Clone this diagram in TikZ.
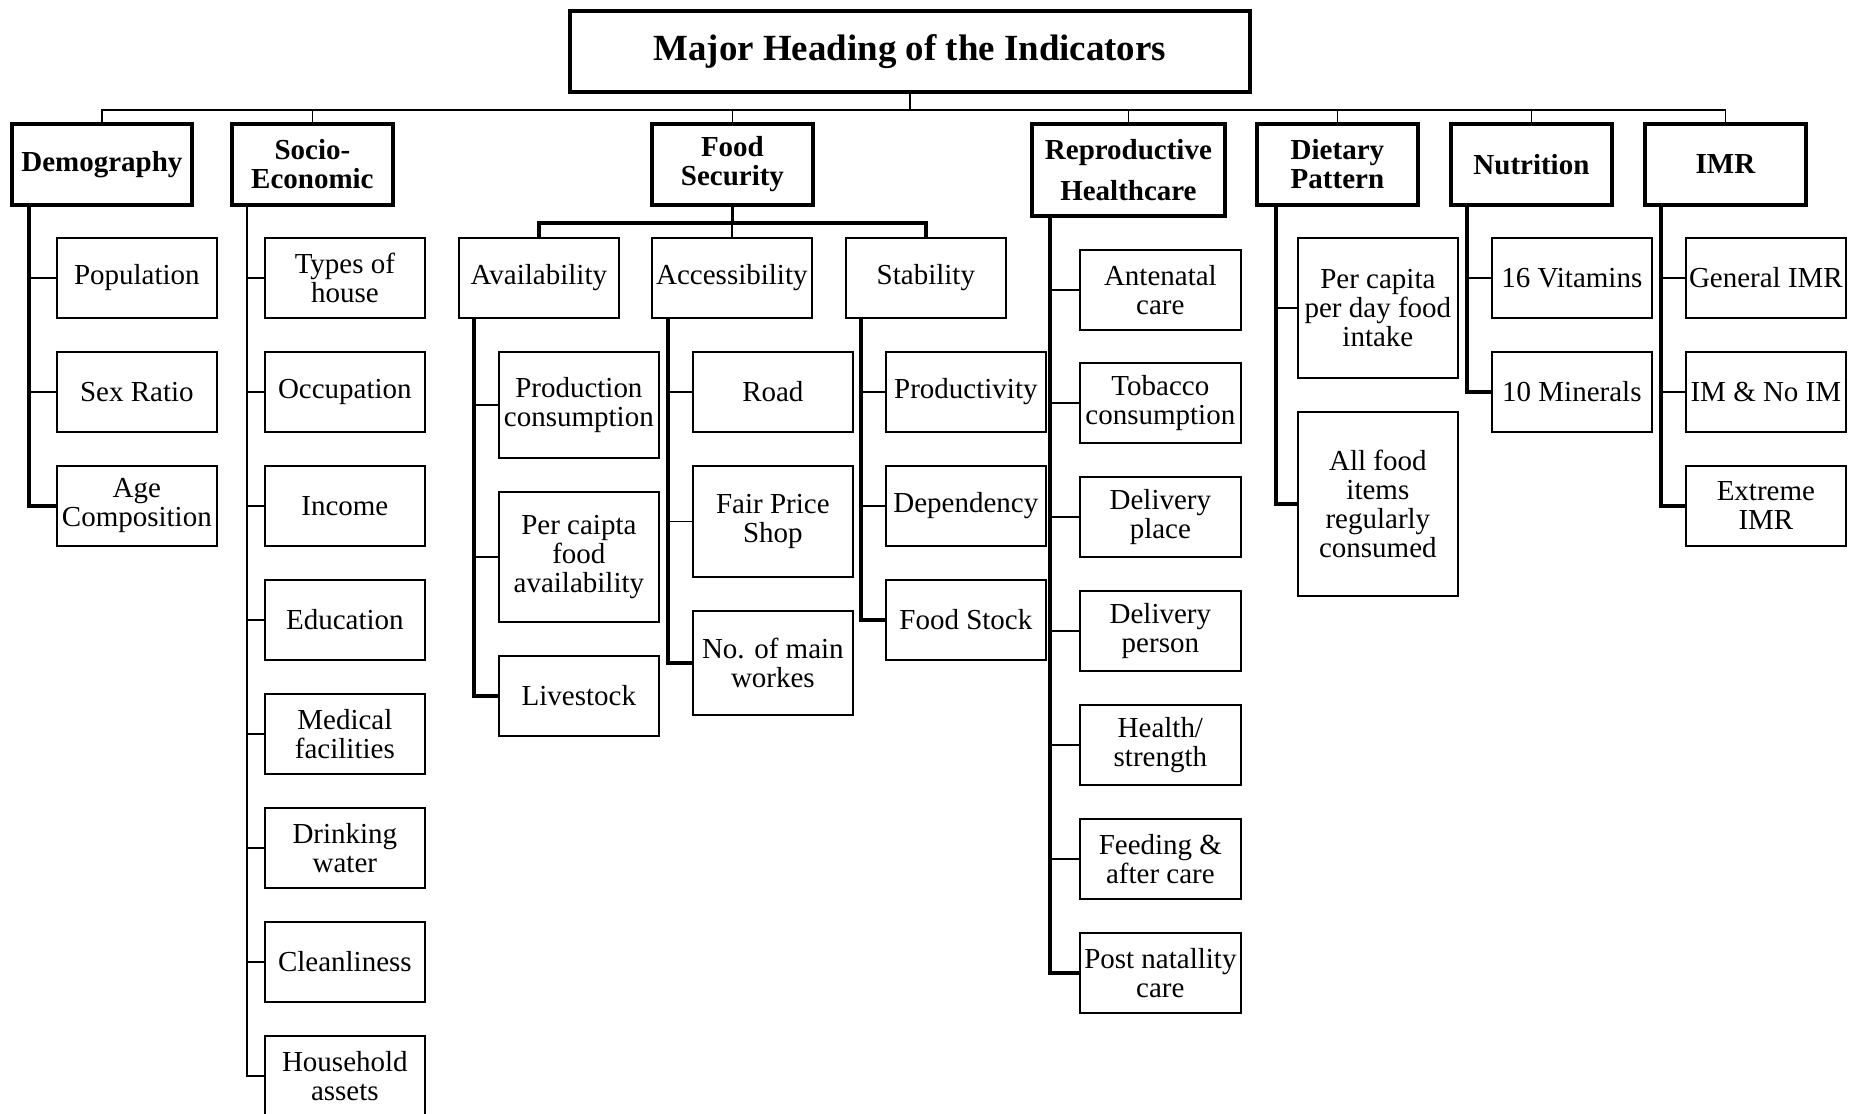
\documentclass[tikz,border=0pt]{standalone}
\usepackage{fontspec}
\setmainfont{Liberation Serif}
\usetikzlibrary{calc,positioning}

\begin{document}
\begin{tikzpicture}[
  x=0.02cm, y=-0.02cm,
  every node/.style={text=black, align=center, inner sep=0pt},
  head/.style={draw, line width=2.2pt, minimum width=3.22cm, minimum height=1.62cm,
    anchor=north west, font=\fontsize{16.5}{16.4}\selectfont\bfseries},
  item/.style={draw, line width=1pt, minimum width=3.2cm, minimum height=1.6cm,
    anchor=north west, font=\fontsize{16.5}{16.4}\selectfont},
  link/.style={line width=1pt},
  trunk/.style={line width=2pt},
  midtrunk/.style={line width=1.4pt}
]
\useasboundingbox (0,0) rectangle (1856,1113);

% ---- title ----
\node[head, minimum width=13.6cm, font=\fontsize{21}{21}\selectfont\bfseries] (title) at (568,9) {Major Heading of the Indicators};

% ---- main headings ----
\node[head, minimum width=3.6cm] (demo) at (10,122) {Demography};
\node[head] (socio) at (230,122) {Socio-\\Economic};
\node[head] (food) at (650,122) {Food\\Security};
\node[head, minimum width=3.86cm, minimum height=1.84cm,
  font=\fontsize{16.5}{23}\selectfont\bfseries] (repro) at (1030,122) {Reproductive\\Healthcare};
\node[head] (diet) at (1255,122) {Dietary\\Pattern};
\node[head] (nutri) at (1449,122) {Nutrition};
\node[head] (imr) at (1643,122) {IMR};

% ---- demography ----
\node[item] (pop) at (56,237) {Population};
\node[item] (sex) at (56,351) {Sex Ratio};
\node[item] (age) at (56,465) {Age\\Composition};

% ---- socio-economic ----
\node[item] (house) at (264,237) {Types of\\house};
\node[item] (occup) at (264,351) {Occupation};
\node[item] (income) at (264,465) {Income};
\node[item] (edu) at (264,579) {Education};
\node[item] (medic) at (264,693) {Medical\\facilities};
\node[item] (water) at (264,807) {Drinking\\water};
\node[item] (clean) at (264,921) {Cleanliness};
\node[item] (assets) at (264,1035) {Household\\assets};

% ---- food security ----
\node[item] (avail) at (458,237) {Availability};
\node[item] (access) at (651,237) {Accessibility};
\node[item] (stab) at (845,237) {Stability};

\node[item, minimum height=2.12cm] (prod) at (498,351) {Production\\consumption};
\node[item, minimum height=2.6cm] (percap) at (498,491) {Per caipta\\food\\availability};
\node[item] (live) at (498,655) {Livestock};

\node[item] (road) at (692,351) {Road};
\node[item, minimum height=2.22cm] (fair) at (692,465) {Fair Price\\Shop};
\node[item, minimum height=2.08cm] (workers) at (692,610) {No. of main\\workes};

\node[item] (prodv) at (885,351) {Productivity};
\node[item] (depend) at (885,465) {Dependency};
\node[item] (stock) at (885,579) {Food Stock};

% ---- reproductive healthcare ----
\node[item, minimum width=3.22cm] (antenatal) at (1079,249) {Antenatal\\care};
\node[item, minimum width=3.22cm] (tobacco) at (1079,362) {Tobacco\\consumption};
\node[item, minimum width=3.22cm] (dplace) at (1079,476) {Delivery\\place};
\node[item, minimum width=3.22cm] (dperson) at (1079,590) {Delivery\\person};
\node[item, minimum width=3.22cm] (health) at (1079,704) {Health/\\strength};
\node[item, minimum width=3.22cm] (feed) at (1079,818) {Feeding \&\\after care};
\node[item, minimum width=3.22cm] (post) at (1079,932) {Post natallity\\care};

% ---- dietary pattern ----
\node[item, minimum height=2.8cm] (intake) at (1297,237) {Per capita\\per day food\\intake};
\node[item, minimum height=3.68cm] (allfood) at (1297,411) {All food\\items\\regularly\\consumed};

% ---- nutrition ----
\node[item] (vit) at (1491,237) {16 Vitamins};
\node[item] (mineral) at (1491,351) {10 Minerals};

% ---- imr ----
\node[item] (gen) at (1685,237) {General IMR};
\node[item] (imno) at (1685,351) {IM \& No IM};
\node[item] (ext) at (1685,465) {Extreme\\IMR};

% ---- top bus ----
\coordinate (bus) at ($(title.south)+(0,16)$);
\draw[link] (title.south) -- (bus);
\draw[link] (demo.north) |- (bus);
\draw[link] (socio.north) |- (bus);
\draw[link] (food.north) |- (bus);
\draw[link] (repro.north) |- (bus);
\draw[link] (diet.north) |- (bus);
\draw[link] (nutri.north) |- (bus);
\draw[link] (imr.north) |- (bus);

% ---- food bus ----
\coordinate (fbus) at ($(food.south)+(0,16)$);
\draw[trunk] (food.south) -- (fbus);
\draw[trunk] (avail.north) |- (fbus);
\draw[trunk] (stab.north) |- (fbus);
\draw[link] (access.north) -- (access.north |- fbus);

% ---- trunks ----
\coordinate (dT) at ([xshift=0.38cm]demo.south west);
\coordinate (sT) at ([xshift=0.34cm]socio.south west);
\coordinate (avT) at ([xshift=0.32cm]avail.south west);
\coordinate (acT) at ([xshift=0.34cm]access.south west);
\coordinate (stT) at ([xshift=0.32cm]stab.south west);
\coordinate (rT) at ([xshift=0.4cm]repro.south west);
\coordinate (diT) at ([xshift=0.42cm]diet.south west);
\coordinate (nT) at ([xshift=0.36cm]nutri.south west);
\coordinate (iT) at ([xshift=0.36cm]imr.south west);

\draw[trunk] (dT) |- (age.west);
\draw[link] (dT |- pop.west) -- (pop.west);
\draw[link] (dT |- sex.west) -- (sex.west);

\draw[midtrunk] (sT) |- (assets.west);
\draw[link] (sT |- house.west) -- (house.west);
\draw[link] (sT |- occup.west) -- (occup.west);
\draw[link] (sT |- income.west) -- (income.west);
\draw[link] (sT |- edu.west) -- (edu.west);
\draw[link] (sT |- medic.west) -- (medic.west);
\draw[link] (sT |- water.west) -- (water.west);
\draw[link] (sT |- clean.west) -- (clean.west);

\draw[trunk] (avT) |- (live.west);
\draw[link] (avT |- prod.west) -- (prod.west);
\draw[link] (avT |- percap.west) -- (percap.west);

\draw[trunk] (acT) |- (workers.west);
\draw[link] (acT |- road.west) -- (road.west);
\draw[link] (acT |- fair.west) -- (fair.west);

\draw[trunk] (stT) |- (stock.west);
\draw[link] (stT |- prodv.west) -- (prodv.west);
\draw[link] (stT |- depend.west) -- (depend.west);

\draw[trunk] (rT) |- (post.west);
\draw[link] (rT |- antenatal.west) -- (antenatal.west);
\draw[link] (rT |- tobacco.west) -- (tobacco.west);
\draw[link] (rT |- dplace.west) -- (dplace.west);
\draw[link] (rT |- dperson.west) -- (dperson.west);
\draw[link] (rT |- health.west) -- (health.west);
\draw[link] (rT |- feed.west) -- (feed.west);

\draw[trunk] (diT) |- (allfood.west);
\draw[link] (diT |- intake.west) -- (intake.west);

\draw[trunk] (nT) |- (mineral.west);
\draw[link] (nT |- vit.west) -- (vit.west);

\draw[trunk] (iT) |- (ext.west);
\draw[link] (iT |- gen.west) -- (gen.west);
\draw[link] (iT |- imno.west) -- (imno.west);

\end{tikzpicture}
\end{document}
